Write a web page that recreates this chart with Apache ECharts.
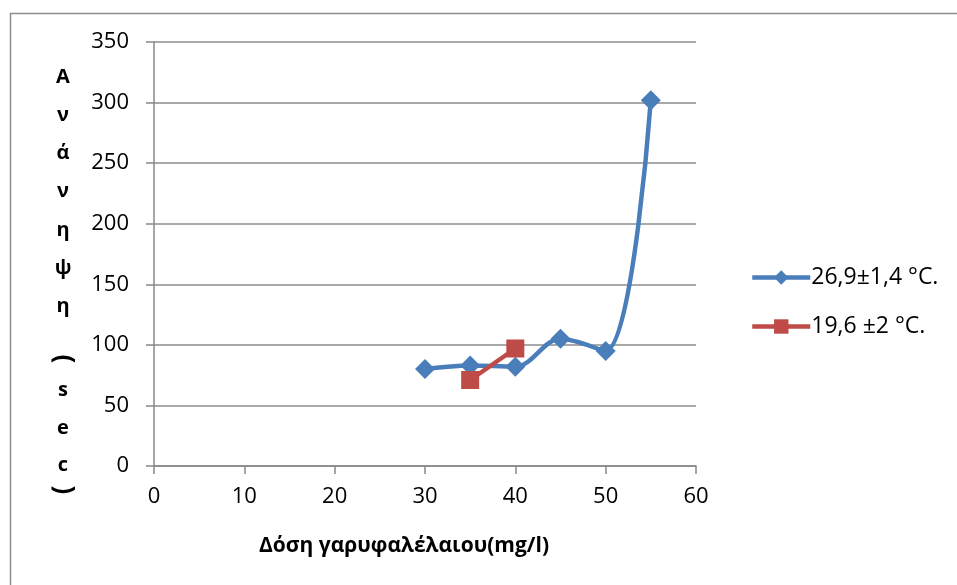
<!DOCTYPE html>
<html>
<head>
<meta charset="utf-8">
<script src="https://cdn.jsdelivr.net/npm/echarts@6/dist/echarts.min.js"></script>
<style>
html,body{margin:0;padding:0;background:#fff;}
#c{width:957px;height:585px;}
</style>
</head>
<body>
<div id="c"></div>
<script>
const xTicks = [0, 10, 20, 30, 40, 50, 60];
const seriesNames = ['26,9±1,4 °C.', '19,6 ±2 °C.'];
const dose1 = [30, 35, 40, 45, 50, 55];
const recovery1 = [80, 83, 82, 105, 95, 302];
const dose2 = [35, 40];
const recovery2 = [71, 97];
const xTitle = 'Δόση γαρυφαλέλαιου(mg/l)';
const yTitleWord = ['Α','ν','ά','ν','η','ψ','η'];
const yTitleUnit = ['s','e','c'];

const FONT = '"Open Sans", "Noto Sans", "Noto Sans CJK SC", sans-serif';
const TS = {fontFamily: FONT, fontSize: 20, fontWeight: 'bold', fill: '#000', align: 'center'};
const chart = echarts.init(document.getElementById('c'), null, {renderer: 'canvas'});
chart.setOption({
  animation: false,
  backgroundColor: '#fff',
  graphic: [
    {
      type: 'rect',
      shape: {x: 10.5, y: 13.5, width: 960, height: 600},
      style: {fill: 'none', stroke: '#8c8c8c', lineWidth: 1.5},
      silent: true, z: -1
    },
    {
      type: 'text', x: 63, y: 58,
      style: Object.assign({}, TS, {text: yTitleWord.join('\n'), lineHeight: 38.2, verticalAlign: 'top'}),
      silent: true
    },
    {
      type: 'text', x: 63, y: 372,
      style: Object.assign({}, TS, {text: yTitleUnit.join('\n'), lineHeight: 37.5, verticalAlign: 'top'}),
      silent: true
    },
    {
      type: 'text', x: 63, y: 359, rotation: -Math.PI / 2,
      style: Object.assign({}, TS, {text: '(', fontSize: 26, verticalAlign: 'middle'}),
      silent: true
    },
    {
      type: 'text', x: 63, y: 490, rotation: -Math.PI / 2,
      style: Object.assign({}, TS, {text: ')', fontSize: 26, verticalAlign: 'middle'}),
      silent: true
    }
  ],
  grid: {left: 154, right: 261, top: 42, bottom: 119, containLabel: false, outerBoundsMode: 'none'},
  legend: {
    orient: 'vertical',
    left: 745, top: 261,
    itemWidth: 58, itemHeight: 18,
    itemGap: 26,
    lineStyle: {width: 4.5},
    textStyle: {fontFamily: FONT, fontSize: 23, color: '#000', padding: [0,0,0,-4]},
    data: seriesNames
  },
  xAxis: {
    type: 'value', min: 0, max: 60, interval: 10,
    axisLine: {show: true, lineStyle: {color: '#888', width: 1.5}},
    axisTick: {show: true, length: 8, lineStyle: {color: '#888', width: 1.5}},
    splitLine: {show: false},
    axisLabel: {fontFamily: FONT, fontSize: 22, color: '#000', margin: 20,
      formatter: v => xTicks.includes(v) ? String(v) : ''},
    name: xTitle, nameLocation: 'middle', nameGap: 70,
    nameTextStyle: {fontFamily: FONT, fontSize: 21, fontWeight: 'bold', color: '#000', padding: [0, 42, 0, 0]}
  },
  yAxis: {
    type: 'value', min: 0, max: 350, interval: 50,
    axisLine: {show: true, lineStyle: {color: '#888', width: 1.5}},
    axisTick: {show: true, length: 8, lineStyle: {color: '#888', width: 1.5}},
    splitLine: {show: true, lineStyle: {color: '#8c8c8c', width: 1.5}},
    axisLabel: {fontFamily: FONT, fontSize: 22, color: '#000', margin: 25}
  },
  series: [
    {
      name: seriesNames[0], type: 'line', smooth: 0.35,
      data: dose1.map((d, i) => [d, recovery1[i]]),
      symbol: 'diamond', symbolSize: 20,
      lineStyle: {color: '#4a7ebb', width: 4.5},
      itemStyle: {color: '#4a7ebb'},
      z: 2
    },
    {
      name: seriesNames[1], type: 'line', smooth: 0.35,
      data: dose2.map((d, i) => [d, recovery2[i]]),
      symbol: 'rect', symbolSize: 18,
      lineStyle: {color: '#be4b48', width: 4.5},
      itemStyle: {color: '#be4b48'},
      z: 3
    }
  ]
});
</script>
</body>
</html>
